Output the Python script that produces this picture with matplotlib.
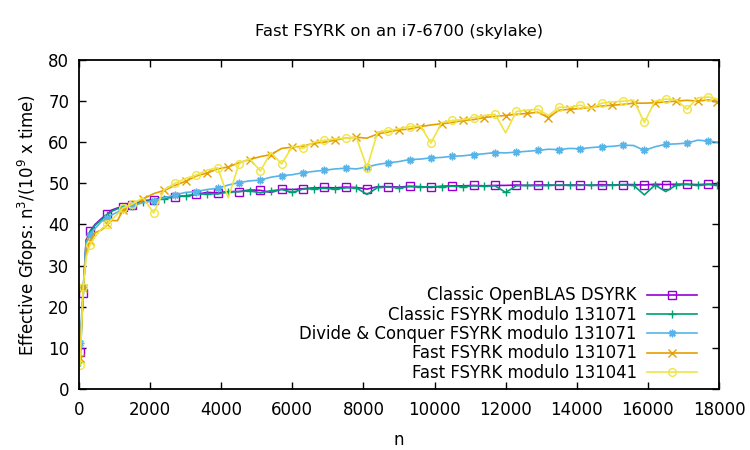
import numpy as np
import matplotlib
matplotlib.use("Agg")
import matplotlib.pyplot as plt

n = [30, 120, 200, 310, 450, 640, 800, 920, 1080, 1240,
     1500, 1800, 2100, 2400, 2700, 3000, 3300, 3600, 3900, 4200,
     4500, 4800, 5100, 5400, 5700, 6000, 6300, 6600, 6900, 7200,
     7500, 7800, 8100, 8400, 8700, 9000, 9300, 9600, 9900, 10200,
     10500, 10800, 11100, 11400, 11700, 12000, 12300, 12600, 12900, 13200,
     13500, 13800, 14100, 14400, 14700, 15000, 15300, 15600, 15900, 16200,
     16500, 16800, 17100, 17400, 17700, 17950]

openblas = [9.1, 23.3, 36.2, 38.3, 40.0, 41.5, 42.5, 43.5, 44.0, 44.3,
            44.8, 45.8, 46.0, 46.6, 46.8, 46.9, 47.3, 47.8, 47.7, 48.0,
            48.0, 48.4, 48.3, 47.8, 48.6, 48.5, 48.7, 48.9, 49.0, 48.9,
            49.1, 49.0, 48.6, 49.2, 49.2, 49.1, 49.3, 49.2, 49.0, 49.3,
            49.4, 49.4, 49.5, 49.4, 49.5, 49.5, 49.6, 49.5, 49.6, 49.6,
            49.5, 49.6, 49.6, 49.5, 49.7, 49.6, 49.7, 49.7, 49.6, 49.8,
            49.7, 49.8, 49.8, 49.7, 49.8, 49.8]

classic = [6.5, 24.0, 35.5, 38.0, 39.8, 41.2, 42.3, 43.2, 43.8, 44.3,
           44.8, 45.5, 45.9, 46.3, 46.7, 47.0, 47.3, 47.5, 47.4, 47.9,
           48.0, 48.2, 47.7, 48.2, 48.5, 47.8, 48.6, 48.7, 48.8, 48.6,
           48.9, 48.9, 47.3, 49.0, 49.1, 48.9, 49.2, 49.1, 49.2, 49.2,
           49.3, 49.2, 49.4, 49.3, 49.4, 47.8, 49.4, 49.5, 49.4, 49.5,
           49.6, 49.5, 49.5, 49.6, 49.4, 49.6, 49.6, 49.5, 47.2, 49.6,
           48.0, 49.6, 49.7, 49.5, 49.7, 49.5]

divconq = [11.2, 24.9, 35.5, 37.5, 39.0, 40.8, 41.5, 42.3, 43.0, 43.8,
           44.5, 45.3, 45.8, 46.5, 47.2, 47.8, 48.0, 48.5, 48.8, 49.6,
           50.2, 50.6, 50.8, 51.5, 51.9, 52.1, 52.6, 52.9, 53.2, 53.5,
           53.7, 53.5, 54.0, 54.6, 55.0, 55.3, 55.8, 55.9, 56.2, 56.3,
           56.6, 56.7, 57.0, 57.2, 57.5, 57.4, 57.6, 57.8, 58.0, 58.3,
           58.2, 58.5, 58.4, 58.7, 58.9, 59.0, 59.3, 59.2, 58.0, 58.9,
           59.5, 59.6, 59.8, 60.5, 60.3, 60.0]

fast71 = [7.5, 24.5, 33.0, 36.0, 38.0, 38.7, 40.0, 41.0, 40.9, 43.5,
          45.0, 46.2, 47.5, 48.3, 49.5, 50.5, 51.8, 52.5, 53.5, 54.0,
          55.0, 55.8, 56.5, 57.0, 58.5, 58.8, 59.0, 59.8, 60.0, 60.5,
          61.0, 61.2, 61.0, 62.0, 62.5, 63.0, 63.2, 63.8, 64.2, 64.5,
          64.8, 65.3, 65.5, 66.0, 66.3, 66.5, 66.8, 67.0, 67.3, 66.0,
          67.8, 68.0, 68.2, 68.5, 68.8, 69.0, 69.2, 69.5, 69.5, 69.6,
          69.8, 70.0, 70.2, 70.0, 70.3, 69.8]

fast41 = [5.8, 24.9, 32.0, 35.0, 37.0, 39.0, 40.0, 41.2, 42.5, 44.0,
          45.0, 46.5, 42.8, 48.5, 50.0, 51.2, 52.0, 53.2, 53.8, 46.5,
          54.8, 56.0, 53.0, 57.5, 54.7, 59.0, 58.5, 60.0, 60.5, 60.8,
          61.0, 61.2, 53.8, 62.5, 62.8, 63.3, 63.8, 64.0, 59.8, 64.8,
          65.3, 65.5, 66.0, 66.5, 66.8, 62.3, 67.5, 67.8, 68.0, 66.5,
          68.5, 68.5, 69.0, 68.2, 69.5, 69.8, 70.0, 70.2, 64.8, 70.0,
          70.5, 70.3, 68.0, 70.8, 71.0, 70.5]

labels = ["Classic OpenBLAS DSYRK",
          "Classic FSYRK modulo 131071",
          "Divide & Conquer FSYRK modulo 131071",
          "Fast FSYRK modulo 131071",
          "Fast FSYRK modulo 131041"]
colors = ["#9400d3", "#009e73", "#56b4e9", "#e69f00", "#f0e442"]
markers = ["s", "+", (8, 2, 0), "x", "o"]
series = [openblas, classic, divconq, fast71, fast41]

plt.rcParams['font.family'] = 'DejaVu Sans'
fig = plt.figure(figsize=(7.5, 4.5), dpi=100)
ax = fig.add_axes([0.1053, 0.1356, 0.8534, 0.7311])

for i, (y, lab, c, m) in enumerate(zip(series, labels, colors, markers)):
    marks = [0, 1, 3, 6, 9] + list(range(10 + i % 2, len(n), 2))
    ax.plot(n, y, color=c, lw=1.2, marker=m, markevery=marks, ms=5.5,
            mfc='none', mec=c, mew=1.0, label=lab)

ax.set_xlim(0, 18000)
ax.set_ylim(0, 80)
ax.set_xticks(range(0, 18001, 2000))
ax.set_yticks(range(0, 81, 10))
ax.tick_params(direction='in', top=True, right=True, length=5, width=1,
               labelsize=12, pad=9)
ax.tick_params(axis='y', pad=7)
for s in ax.spines.values():
    s.set_linewidth(1.3)

ax.set_title("Fast FSYRK on an i7-6700 (skylake)", fontsize=11.8, pad=17)
ax.set_xlabel("n", fontsize=12, labelpad=8)
ax.set_ylabel(r"Effective Gfops: n$^3$/(10$^9$ x time)", fontsize=12, labelpad=6)

ax.legend(loc='lower right', bbox_to_anchor=(0.9656, 0.022), frameon=False,
          markerfirst=False, fontsize=11.9, handlelength=3.0, handletextpad=0.65,
          labelspacing=0.08, borderaxespad=0, borderpad=0)

fig.savefig("out.png", dpi=100)
